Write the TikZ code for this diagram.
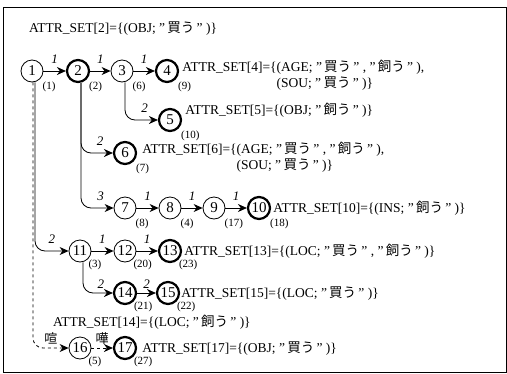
\documentclass[tikz,border=0pt]{standalone}
\usepackage{fontspec}
\setmainfont{Liberation Serif}
\newfontfamily\jp{Noto Sans CJK JP}
\usetikzlibrary{arrows.meta, positioning}
\newcommand\qt[1]{\ "\,{\jp #1}\,"\ }

\begin{document}
\begin{tikzpicture}[
  x=1pt, y=-1pt,
  font=\fontsize{13.5}{15}\selectfont,
  st/.style={draw, circle, minimum size=22pt, inner sep=0pt, line width=0.8pt, font=\fontsize{15}{16}\selectfont},
  fin/.style={st, line width=2.2pt},
  lbl/.style={font=\fontsize{11}{12}\selectfont, inner sep=1pt, label distance=2pt},
  tight/.style={lbl, label distance=-1pt},
  el/.style={above=6pt, font=\fontsize{13}{14}\selectfont\itshape, inner sep=1pt},
  attr/.style={anchor=base west, inner sep=0pt},
  arr/.style={-{Stealth[length=9pt, width=8pt]}, line width=0.8pt},
  turn/.style={arr, rounded corners=10pt}
]
\useasboundingbox (0,0) rectangle (507,373);
\draw[line width=0.8pt] (3,7) rectangle (506,372);

% states
\node[st, label={[lbl]below right:(1)}] (n1) at (32,71) {1};
\node[fin, label={[lbl]below right:(2)}] (n2) at (78,71) {2};
\node[st, label={[lbl]below right:(6)}] (n3) at (122,71) {3};
\node[fin, label={[lbl]below right:(9)}] (n4) at (167,71) {4};
\node[fin, label={[lbl]below right:(10)}] (n5) at (170,120) {5};
\node[fin, label={[lbl]below right:(7)}] (n6) at (125,153) {6};
\node[st, label={[lbl]below right:(8)}] (n7) at (125,208) {7};
\node[st, label={[lbl]below right:(4)}] (n8) at (170,208) {8};
\node[st, label={[lbl]below right:(17)}] (n9) at (214,208) {9};
\node[fin, label={[lbl]below right:(18)}] (n10) at (259,208) {10};
\node[st, label={[tight]below right:(3)}] (n11) at (80,251) {11};
\node[st, label={[tight]below right:(20)}] (n12) at (125,251) {12};
\node[fin, label={[tight]below right:(23)}] (n13) at (170,251) {13};
\node[fin, label={[tight]below right:(21)}] (n14) at (125,293) {14};
\node[fin, label={[tight]below right:(22)}] (n15) at (168,293) {15};
\node[st, label={[tight]below right:(5)}] (n16) at (80,348) {16};
\node[fin, label={[tight]below right:(27)}] (n17) at (125,348) {17};

% attribute sets
\node[attr] (a2) at (29,32) {ATTR\_SET[2]=\{(OBJ;\qt{買う})\}};
\node[attr] (a4) at ([xshift=3pt, yshift=0pt]n4.east) {ATTR\_SET[4]=\{(AGE;\qt{買う},\qt{飼う}),};
\node[attr] (a4b) at ([yshift=-16pt]a4.base west) {\phantom{ATTR\_SET[4]=\{}(SOU;\qt{買う})\}};
\node[attr] (a5) at ([xshift=3pt, yshift=6pt]n5.east) {ATTR\_SET[5]=\{(OBJ;\qt{飼う})\}};
\node[attr] (a6) at ([xshift=5pt, yshift=0pt]n6.east) {ATTR\_SET[6]=\{(AGE;\qt{買う},\qt{飼う}),};
\node[attr] (a6b) at ([yshift=-16pt]a6.base west) {\phantom{ATTR\_SET[6]=\{}(SOU;\qt{買う})\}};
\node[attr] (a10) at ([xshift=2pt, yshift=-4pt]n10.east) {ATTR\_SET[10]=\{(INS;\qt{飼う})\}};
\node[attr] (a13) at ([xshift=2pt, yshift=-4pt]n13.east) {ATTR\_SET[13]=\{(LOC;\qt{買う},\qt{飼う})\}};
\node[attr] (a15) at ([xshift=1pt, yshift=-4pt]n15.east) {ATTR\_SET[15]=\{(LOC;\qt{買う})\}};
\node[attr] (a14) at (53,326) {ATTR\_SET[14]=\{(LOC;\qt{飼う})\}};
\node[attr] (a17) at ([xshift=5pt, yshift=-4pt]n17.east) {ATTR\_SET[17]=\{(OBJ;\qt{買う})\}};

% transitions
\draw[arr] (n1) -- node[el]{1} (n2);
\draw[arr] (n2) -- node[el]{1} (n3);
\draw[arr] (n3) -- node[el]{1} (n4);
\draw[turn] ([xshift=3pt]n3.south) |- node[el, pos=0.8]{2} (n5);
\draw[turn] ([xshift=3pt]n2.south) |- node[el, pos=0.8]{2} (n6);
\draw[turn] ([xshift=3pt]n2.south) |- node[el, pos=0.8]{3} (n7);
\draw[arr] (n7) -- node[el]{1} (n8);
\draw[arr] (n8) -- node[el]{1} (n9);
\draw[arr] (n9) -- node[el]{1} (n10);
\draw[turn] ([xshift=3pt]n1.south) |- node[el, pos=0.75]{2} (n11);
\draw[arr] (n11) -- node[el]{1} (n12);
\draw[arr] (n12) -- node[el]{1} (n13);
\draw[turn] ([xshift=3pt]n11.south) |- node[el, above=3pt, pos=0.8]{2} (n14);
\draw[arr] (n14) -- node[el, above=3pt]{2} (n15);
\draw[turn, dashed] ([xshift=1pt]n1.south) |- node[el, above=2pt, pos=0.75]{\jp 喧} (n16);
\draw[arr, dashed] (n16) -- node[el, above=2pt]{\jp 嘩} (n17);
\end{tikzpicture}
\end{document}
